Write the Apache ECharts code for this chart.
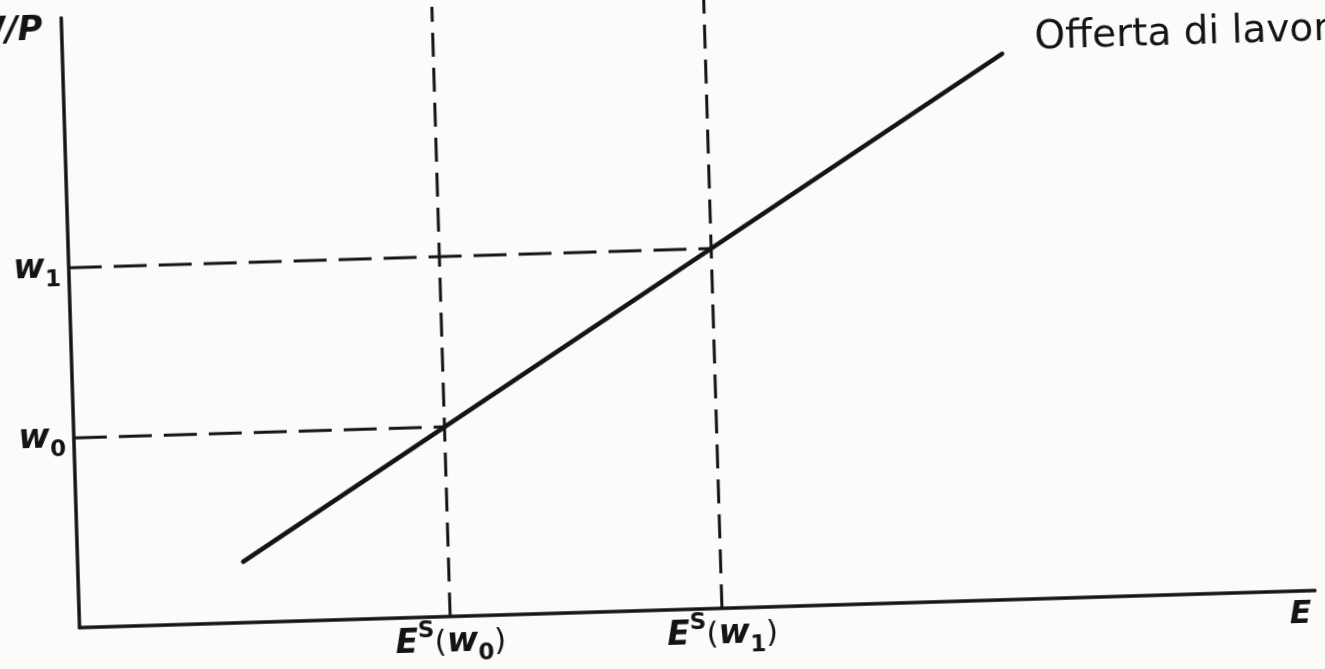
<!DOCTYPE html>
<html>
<head>
<meta charset="utf-8">
<script src="https://cdn.jsdelivr.net/npm/echarts@6/dist/echarts.min.js"></script>
<style>
  html, body { margin: 0; padding: 0; width: 1325px; height: 669px; overflow: hidden; background: #fbfbf9; }
  /* the scan is tilted a little, so the whole chart is turned the same way */
  #main { position: absolute; left: -40px; top: -40px; width: 1405px; height: 749px; transform: rotate(-1.72deg); }
</style>
</head>
<body>
<div id="main"></div>
<script>
// supply line (employment E, real wage W/P), in axis units 0..100
var supplyE = [13.4, 76]
var supplyW = [10, 89.5]
// the two wages and the employment they give
var wageValues = [31.1, 59]
var wageLabels = ['0', '1']
var employValues = [30, 52]
var axisMax = 100

var ink = '#141414'
var font = 'DejaVu Sans'

var chart = echarts.init(document.getElementById('main'))

function hDash (i) {
  return {
    type: 'line',
    data: [[0, wageValues[i]], [employValues[i], wageValues[i]]],
    symbol: 'none',
    silent: true,
    z: 1,
    lineStyle: { color: ink, width: 3, type: [33, 12] }
  }
}
function vDash (i) {
  return {
    type: 'line',
    data: [[employValues[i], 0], [employValues[i], axisMax]],
    symbol: 'none',
    silent: true,
    z: 1,
    lineStyle: { color: ink, width: 3, type: [24, 11] }
  }
}

var rich = {
  E: { fontSize: 33, lineHeight: 47, fontWeight: 'bold', fontStyle: 'italic', fontFamily: font, color: ink },
  sup: { fontSize: 23, lineHeight: 23, verticalAlign: 'top', fontWeight: 'bold', fontFamily: font, color: ink },
  p: { fontSize: 31, lineHeight: 47, fontFamily: font, color: ink },
  w: { fontSize: 34, lineHeight: 47, fontWeight: 'bold', fontStyle: 'italic', fontFamily: font, color: ink },
  sub: { fontSize: 23, lineHeight: 23, verticalAlign: 'bottom', fontWeight: 'bold', fontFamily: font, color: ink }
}

var option = {
  animation: false,
  backgroundColor: 'transparent',
  grid: { left: 111, right: 58, top: 40, bottom: 99 },
  xAxis: {
    type: 'value',
    min: 0,
    max: axisMax,
    name: 'E',
    nameLocation: 'end',
    nameGap: -26,
    nameTextStyle: {
      fontSize: 32, fontWeight: 'bold', fontStyle: 'italic', fontFamily: font, color: ink,
      verticalAlign: 'top', padding: [8, 0, 0, 0]
    },
    axisLine: { lineStyle: { color: ink, width: 3.5 } },
    axisTick: { show: false },
    splitLine: { show: false },
    axisLabel: {
      customValues: employValues,
      margin: 3,
      verticalAlign: 'top',
      formatter: function (v) {
        var i = employValues.indexOf(v)
        return '{E|E}{sup|S}{p|(}{w|w}{sub|' + wageLabels[i] + '}{p|)}'
      },
      rich: rich
    }
  },
  yAxis: {
    type: 'value',
    min: 0,
    max: axisMax,
    name: 'W/P',
    nameLocation: 'end',
    nameGap: -12,
    nameTextStyle: {
      fontSize: 34, fontWeight: 'bold', fontStyle: 'italic', fontFamily: font, color: ink,
      align: 'right', verticalAlign: 'middle', padding: [0, 19, 0, 0]
    },
    axisLine: { show: true, lineStyle: { color: ink, width: 3.5 } },
    axisTick: { show: false },
    splitLine: { show: false },
    axisLabel: {
      customValues: wageValues,
      margin: 8,
      formatter: function (v) {
        var i = wageValues.indexOf(v)
        return '{w|w}{sub|' + wageLabels[i] + '}'
      },
      rich: rich
    }
  },
  series: [
    hDash(0), hDash(1), vDash(0), vDash(1),
    {
      type: 'line',
      data: [[supplyE[0], supplyW[0]], [supplyE[1], supplyW[1]]],
      symbol: 'none',
      silent: true,
      z: 3,
      lineStyle: { color: ink, width: 4.5, cap: 'round' },
      endLabel: {
        show: true,
        formatter: 'Offerta di lavoro',
        distance: 0,
        offset: [33, -14],
        fontSize: 39,
        fontFamily: font,
        color: ink
      }
    }
  ]
}
chart.setOption(option)
</script>
</body>
</html>
